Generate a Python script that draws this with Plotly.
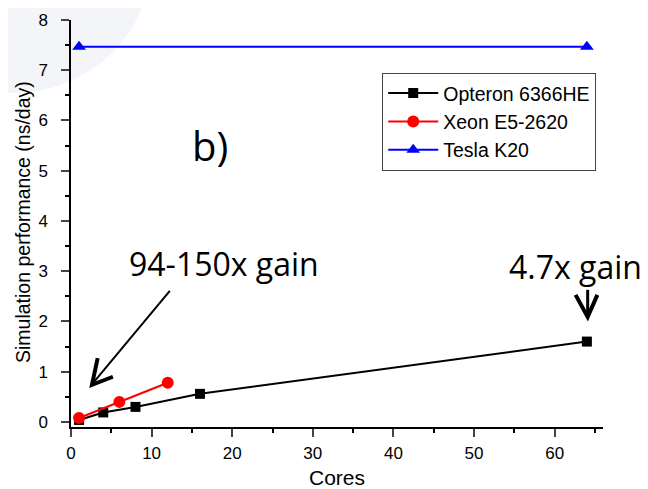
import plotly.graph_objects as go

opteron_cores = [1, 4, 8, 16, 64]
opteron_perf = [0.04, 0.19, 0.30, 0.56, 1.60]
xeon_cores = [1, 6, 12]
xeon_perf = [0.08, 0.40, 0.78]
tesla_cores = [1, 64]
tesla_perf = [7.47, 7.47]

x_ticks = [0, 10, 20, 30, 40, 50, 60]
y_ticks = [0, 1, 2, 3, 4, 5, 6, 7, 8]

fig = go.Figure()
fig.add_trace(go.Scatter(x=opteron_cores, y=opteron_perf, mode="lines+markers",
                         name="Opteron 6366HE", line=dict(color="black", width=2),
                         marker=dict(symbol="square", size=10, color="black")))
fig.add_trace(go.Scatter(x=xeon_cores, y=xeon_perf, mode="lines+markers",
                         name="Xeon E5-2620", line=dict(color="#ff0000", width=2),
                         marker=dict(symbol="circle", size=12, color="#ff0000")))
fig.add_trace(go.Scatter(x=tesla_cores, y=tesla_perf, mode="lines+markers",
                         name="Tesla K20", line=dict(color="#0000ff", width=2),
                         marker=dict(symbol="triangle-up", size=12, color="#0000ff")))

# faint background decoration (slide artwork)
fig.add_shape(type="circle", xref="paper", yref="paper",
              x0=-0.365, x1=0.154, y0=0.821, y1=1.499,
              fillcolor="#f4f5f9", line=dict(width=0), layer="below")

# arrows
fig.add_shape(type="line", xref="x", yref="y", x0=12.26, y0=2.61, x1=2.75, y1=0.78,
              line=dict(color="black", width=2))
fig.add_shape(type="path", xref="x", yref="y",
              path="M 3.31 1.27 L 2.6 0.74 L 5.2 0.90",
              line=dict(color="black", width=4))
fig.add_shape(type="line", xref="x", yref="y", x0=64.1, y0=2.63, x1=64.1, y1=2.12,
              line=dict(color="black", width=3))
fig.add_shape(type="path", xref="x", yref="y",
              path="M 62.6 2.53 L 64.1 2.09 L 65.3 2.53",
              line=dict(color="black", width=4))

fig.add_annotation(x=17.2, y=5.5, xref="x", yref="y", text="b)",
                   showarrow=False, font=dict(size=40, color="black", family="Open Sans"),
                   xanchor="center", yanchor="middle")
fig.add_annotation(x=19.0, y=3.15, xref="x", yref="y", text="94-150x gain",
                   showarrow=False, font=dict(size=32, color="black", family="Open Sans"),
                   xanchor="center", yanchor="middle")
fig.add_annotation(x=62.6, y=3.1, xref="x", yref="y", text="4.7x gain",
                   showarrow=False, font=dict(size=32, color="black", family="Open Sans"),
                   xanchor="center", yanchor="middle")
# y-axis title
fig.add_annotation(x=-0.09, y=0.504, xref="paper", yref="paper",
                   text="Simulation performance (ns/day)", textangle=-90,
                   showarrow=False, font=dict(size=19.5, color="black"),
                   xanchor="center", yanchor="middle", borderpad=0)

fig.update_layout(
    width=640, height=481,
    margin=dict(l=63, r=45, t=12, b=62),
    paper_bgcolor="white", plot_bgcolor="rgba(0,0,0,0)",
    font=dict(family="Liberation Sans, Arial", size=17, color="black"),
    showlegend=True,
    legend=dict(x=0.585, y=0.87, xanchor="left", yanchor="top",
                bgcolor="white", bordercolor="#444444", borderwidth=1,
                font=dict(size=19.5), tracegroupgap=0, itemwidth=50),
)
fig.update_xaxes(range=[0, 66], tickmode="array", tickvals=x_ticks,
                 ticks="outside", ticklen=8, tickwidth=1.5, showline=True, linecolor="black",
                 linewidth=1.5, showgrid=False, zeroline=False, automargin=False,
                 ticklabelstandoff=2,
                 minor=dict(tickvals=[5, 15, 25, 35, 45, 55, 65], ticks="outside", ticklen=4,
                            tickwidth=1.5, tickcolor="black"),
                 title=dict(text="Cores", font=dict(size=21), standoff=13),
                 tickfont=dict(size=17))
fig.update_yaxes(range=[-0.1, 8], tickmode="array", tickvals=y_ticks,
                 ticks="outside", ticklen=8, tickwidth=1.5, showline=True, linecolor="black",
                 linewidth=1.5, showgrid=False, zeroline=False, automargin=False,
                 ticklabelstandoff=10,
                 minor=dict(tickvals=[0.5, 1.5, 2.5, 3.5, 4.5, 5.5, 6.5, 7.5], ticks="outside",
                            ticklen=4, tickwidth=1.5, tickcolor="black"),
                 tickfont=dict(size=17))

fig.write_html("out.html")
